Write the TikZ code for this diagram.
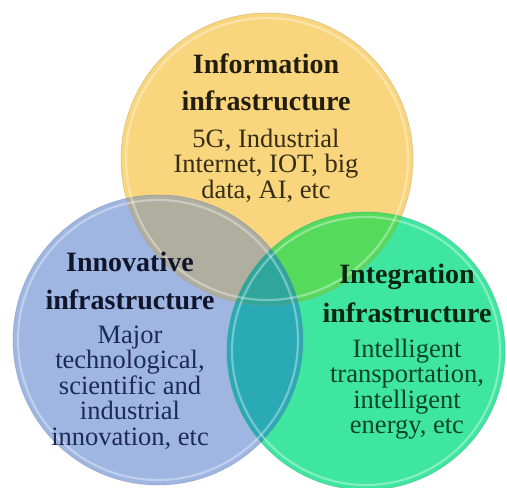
\documentclass[tikz,border=0pt]{standalone}
\usepackage{fontspec}
\setmainfont{Liberation Serif}
\begin{document}
\begin{tikzpicture}[x=1pt,y=-1pt,
  headline/.style={font=\fontsize{28}{31}\selectfont\bfseries, inner sep=0pt, anchor=base},
  bodyline/.style={font=\fontsize{26.5}{29}\selectfont, inner sep=0pt, anchor=base},
  rim/.style={white, line width=2.2pt, opacity=0.35},
  edge/.style={line width=0.8pt, opacity=0.35}]
\definecolor{cY}{HTML}{F9D57D}
\definecolor{cB}{HTML}{9FB6E3}
\definecolor{cG}{HTML}{3FE6A0}
\definecolor{cYB}{HTML}{B0AE9E}
\definecolor{cYG}{HTML}{55DA5C}
\definecolor{cBG}{HTML}{2AAAB4}
\definecolor{cYBG}{HTML}{2EA69C}
\definecolor{tY}{HTML}{221E0E}
\definecolor{bY}{HTML}{352E15}
\definecolor{tB}{HTML}{10152B}
\definecolor{bB}{HTML}{1C2B55}
\definecolor{tG}{HTML}{082414}
\definecolor{bG}{HTML}{0C4428}
\useasboundingbox (0,0) rectangle (507,488);
\fill[white] (0,0) rectangle (507,488);
% circle centres and radii
\coordinate (Y) at (267,159);
\coordinate (B) at (158,340);
\coordinate (G) at (366,351);
\def\rY{146}\def\rB{145}\def\rG{139}
% plain discs
\fill[cY] (Y) circle (\rY);
\fill[cB] (B) circle (\rB);
\fill[cG] (G) circle (\rG);
% pairwise overlaps
\begin{scope}\clip (Y) circle (\rY); \fill[cYB] (B) circle (\rB); \fill[cYG] (G) circle (\rG);\end{scope}
\begin{scope}\clip (B) circle (\rB); \fill[cBG] (G) circle (\rG);\end{scope}
% triple overlap
\begin{scope}\clip (Y) circle (\rY); \clip (B) circle (\rB); \fill[cYBG] (G) circle (\rG);\end{scope}
% glossy rims and soft edges
\draw[edge, draw=cY!70!black] (Y) circle (\rY);
\draw[edge, draw=cB!70!black] (B) circle (\rB);
\draw[edge, draw=cG!70!black] (G) circle (\rG);
\draw[rim] (Y) circle (\rY-5);
\draw[rim] (B) circle (\rB-5);
\draw[rim] (G) circle (\rG-5);
% information infrastructure
\node[headline, text=tY] (y1) at (266,73) {Information};
\node[headline, text=tY] (y2) at (266,110) {infrastructure};
\node[bodyline, text=bY] (y3) at (266,147) {5G, Industrial};
\node[bodyline, text=bY] (y4) at (266,172.5) {Internet, IOT, big};
\node[bodyline, text=bY] (y5) at (266,198) {data, AI, etc};
% innovative infrastructure
\node[headline, text=tB] (b1) at (130,271) {Innovative};
\node[headline, text=tB] (b2) at (130,309) {infrastructure};
\node[bodyline, text=bB] (b3) at (130,343) {Major};
\node[bodyline, text=bB] (b4) at (130,368.5) {technological,};
\node[bodyline, text=bB] (b5) at (130,394) {scientific and};
\node[bodyline, text=bB] (b6) at (130,419.5) {industrial};
\node[bodyline, text=bB] (b7) at (130,445) {innovation, etc};
% integration infrastructure
\node[headline, text=tG] (g1) at (407,283) {Integration};
\node[headline, text=tG] (g2) at (407,322) {infrastructure};
\node[bodyline, text=bG] (g3) at (407,357) {Intelligent};
\node[bodyline, text=bG] (g4) at (407,382) {transportation,};
\node[bodyline, text=bG] (g5) at (407,408) {intelligent};
\node[bodyline, text=bG] (g6) at (407,433) {energy, etc};
\end{tikzpicture}
\end{document}
